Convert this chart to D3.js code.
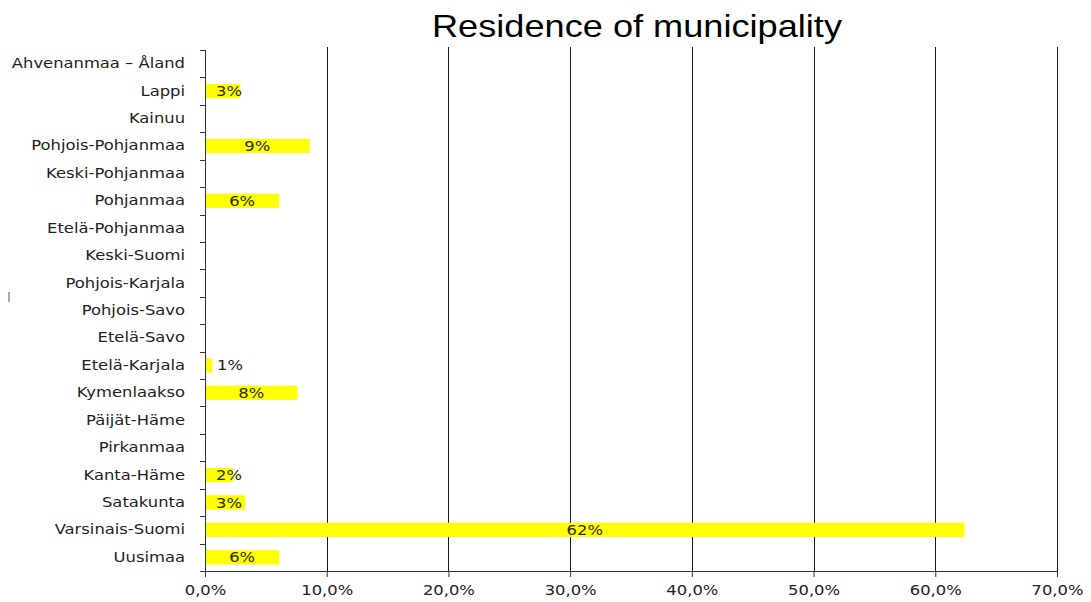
<!DOCTYPE html>
<html>
<head>
<meta charset="utf-8">
<script src="https://cdn.jsdelivr.net/npm/d3@7"></script>
<style>
  body { margin: 0; background: #fff; }
</style>
</head>
<body>
<div class="chart"></div>
<script>
// regions, top to bottom as drawn
const regions = ['Ahvenanmaa – Åland', 'Lappi', 'Kainuu', 'Pohjois-Pohjanmaa', 'Keski-Pohjanmaa',
  'Pohjanmaa', 'Etelä-Pohjanmaa', 'Keski-Suomi', 'Pohjois-Karjala', 'Pohjois-Savo', 'Etelä-Savo',
  'Etelä-Karjala', 'Kymenlaakso', 'Päijät-Häme', 'Pirkanmaa', 'Kanta-Häme', 'Satakunta',
  'Varsinais-Suomi', 'Uusimaa'];
const shares = [0, 0.029, 0, 0.086, 0, 0.061, 0, 0, 0, 0, 0, 0.006, 0.076, 0, 0, 0.023, 0.033, 0.624, 0.061];
const xTicks = [0, 0.1, 0.2, 0.3, 0.4, 0.5, 0.6, 0.7];
const title = 'Residence of municipality';

const data = regions.map((r, i) => ({region: r, value: shares[i]}));

const W = 1091, H = 602;
const margin = {top: 50, right: 34, bottom: 31, left: 205};
const width = W - margin.left - margin.right,
      height = H - margin.top - margin.bottom;
const stretchX = 1.17; // the original picture is a bit wider than tall
const font = 'DejaVu Sans, Verdana, sans-serif';

const fiLocale = d3.formatLocale({decimal: ',', thousands: ' ', grouping: [3], currency: ['', '€']});
const tickFmt = fiLocale.format('.1%');
const labelFmt = d3.format('.0%');

const svg = d3.select('.chart')
  .append('svg')
  .attr('width', W)
  .attr('height', H)
  .style('display', 'block');

svg.append('text')
  .attr('x', 637)
  .attr('y', 37)
  .attr('text-anchor', 'middle')
  .attr('textLength', 410)
  .attr('lengthAdjust', 'spacingAndGlyphs')
  .style('font-family', 'Liberation Sans, Arial, sans-serif')
  .style('font-size', '32px')
  .attr('fill', '#000')
  .text(title);

// small stray mark at the left edge
svg.append('line')
  .attr('x1', 9).attr('x2', 9)
  .attr('y1', 292).attr('y2', 302)
  .attr('stroke', '#aaa')
  .attr('stroke-width', 2);

const g = svg.append('g')
  .attr('transform', 'translate(' + margin.left + ',' + margin.top + ')');

const xScale = d3.scaleLinear()
  .domain([0, 0.7])
  .range([0, width]);

const yScale = d3.scaleBand()
  .domain(regions)
  .range([0, height])
  .paddingInner(0.48)
  .paddingOuter(0.24);

// gridlines
g.append('g')
  .selectAll('line')
  .data(xTicks.slice(1))
  .enter()
  .append('line')
    .attr('x1', d => Math.round(xScale(d)) + 0.5)
    .attr('x2', d => Math.round(xScale(d)) + 0.5)
    .attr('y1', -3)
    .attr('y2', height)
    .attr('stroke', '#1a1a1a')
    .attr('stroke-width', 1);

// bars
g.append('g')
  .selectAll('rect')
  .data(data.filter(d => d.value > 0))
  .enter()
  .append('rect')
    .attr('x', 0)
    .attr('y', d => yScale(d.region))
    .attr('width', d => xScale(d.value))
    .attr('height', yScale.bandwidth())
    .attr('fill', '#ffff00');

// value labels, centred in the bar but never closer than 12px to the axis
const outside = d => xScale(d.value) < 20;
g.append('g')
  .selectAll('text')
  .data(data.filter(d => d.value > 0))
  .enter()
  .append('text')
    .attr('transform', d => {
      const x = outside(d) ? 12 : Math.max(xScale(d.value) / 2, 24);
      const y = yScale(d.region) + yScale.bandwidth() / 2;
      return 'translate(' + x + ',' + y + ') scale(' + stretchX + ',1)';
    })
    .attr('dy', '0.36em')
    .attr('text-anchor', d => outside(d) ? 'start' : 'middle')
    .style('font-family', font)
    .style('font-size', '14px')
    .attr('fill', d => outside(d) ? '#222' : '#2b2b00')
    .text(d => labelFmt(d.value));

// x axis
const xAxis = g.append('g')
  .attr('transform', 'translate(0,' + height + ')')
  .call(d3.axisBottom(xScale).tickValues(xTicks).tickFormat(tickFmt).tickSize(6).tickSizeOuter(0));
xAxis.select('.domain').attr('stroke', '#333');
xAxis.selectAll('.tick line').attr('stroke', '#333');
xAxis.selectAll('.tick text')
  .attr('y', 0)
  .attr('dy', 0)
  .attr('transform', 'translate(0,24) scale(' + stretchX + ',1)')
  .style('font-family', font)
  .style('font-size', '14px')
  .attr('fill', '#222');

// y axis: ticks between categories, Excel style
const step = yScale.step();
const y0 = yScale(regions[0]) - yScale.paddingInner() * step / 2;
const boundaries = d3.range(regions.length + 1).map(i => y0 + i * step);
const yAxis = g.append('g')
  .call(d3.axisLeft(yScale).tickSize(0).tickPadding(20));
yAxis.select('.domain').remove();
yAxis.append('line')
  .attr('x1', 0.5).attr('x2', 0.5)
  .attr('y1', boundaries[0]).attr('y2', height)
  .attr('stroke', '#333');
yAxis.selectAll('.boundary')
  .data(boundaries)
  .enter()
  .append('line')
    .attr('class', 'boundary')
    .attr('x1', -5).attr('x2', 0)
    .attr('y1', d => Math.round(d) + 0.5)
    .attr('y2', d => Math.round(d) + 0.5)
    .attr('stroke', '#333');
yAxis.selectAll('.tick text')
  .attr('x', 0)
  .attr('transform', 'translate(-20,0) scale(' + stretchX + ',1)')
  .style('font-family', font)
  .style('font-size', '14px')
  .attr('fill', '#222');
</script>
</body>
</html>
